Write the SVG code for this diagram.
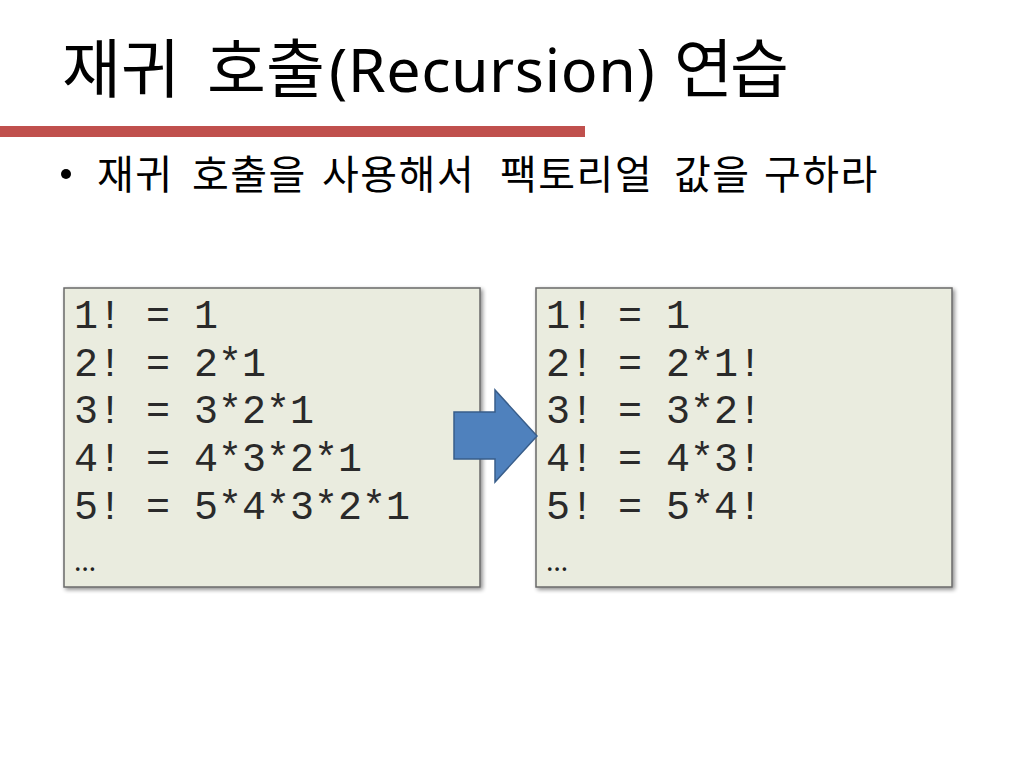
<svg xmlns="http://www.w3.org/2000/svg" width="1024" height="768" viewBox="0 0 1024 768">
<defs>
<style>
.title{font-family:"Noto Sans CJK KR","Noto Sans",sans-serif;font-size:64px;fill:#000}
.lat{font-family:"Noto Sans","Noto Sans CJK KR",sans-serif;font-size:61px;letter-spacing:0.5px}
.bullet{font-family:"Noto Sans CJK KR","Noto Sans",sans-serif;font-size:40px;letter-spacing:1.5px;fill:#000}
.code{font-family:"Liberation Mono","Courier New",monospace;font-size:40px;fill:#2a2a2a}
.ell{font-family:"Noto Sans","Noto Sans CJK KR",sans-serif;font-size:28px;fill:#222}
.box{fill:#EAECDF;stroke:#6a6a6a;stroke-width:1.5}
</style>
<filter id="sh" x="-5%" y="-5%" width="115%" height="115%">
<feGaussianBlur in="SourceAlpha" stdDeviation="2"/>
<feOffset dx="2" dy="2" result="b"/>
<feComponentTransfer><feFuncA type="linear" slope="0.45"/></feComponentTransfer>
<feMerge><feMergeNode/><feMergeNode in="SourceGraphic"/></feMerge>
</filter>
</defs>
<rect width="1024" height="768" fill="#fff"/>
<g id="title">
<text class="title" y="92"><tspan x="62">재귀</tspan><tspan x="207">호출</tspan><tspan class="lat" x="329">(Recursion)</tspan><tspan x="674" letter-spacing="-3">연습</tspan></text>
</g>
<rect id="bar" x="0" y="126" width="585" height="11" fill="#C0504D"/>
<g id="bullet">
<circle cx="66" cy="174" r="5" fill="#000"/>
<text class="bullet" y="189"><tspan x="97">재귀</tspan><tspan x="192">호출을</tspan><tspan x="322">사용해서</tspan><tspan x="500">팩토리얼</tspan><tspan x="674">값을</tspan><tspan x="764">구하라</tspan></text>
</g>
<g id="left-box">
<rect class="box" x="64" y="288" width="416" height="299" filter="url(#sh)"/>
<text class="code" x="74" y="328">1! = 1</text>
<text class="code" x="74" y="376">2! = 2*1</text>
<text class="code" x="74" y="423">3! = 3*2*1</text>
<text class="code" x="74" y="471">4! = 4*3*2*1</text>
<text class="code" x="74" y="519">5! = 5*4*3*2*1</text>
<text class="ell" x="74" y="571">…</text>
</g>
<g id="right-box">
<rect class="box" x="536" y="288" width="416" height="299" filter="url(#sh)"/>
<text class="code" x="546" y="328">1! = 1</text>
<text class="code" x="546" y="376">2! = 2*1!</text>
<text class="code" x="546" y="423">3! = 3*2!</text>
<text class="code" x="546" y="471">4! = 4*3!</text>
<text class="code" x="546" y="519">5! = 5*4!</text>
<text class="ell" x="546" y="571">…</text>
</g>
<g id="connectors">
<path d="M454,412 L495,412 L495,390 L537,436 L495,482 L495,459 L454,459 Z" fill="#4F81BD" stroke="#385D8A" stroke-width="1.5"/>
</g>
</svg>
